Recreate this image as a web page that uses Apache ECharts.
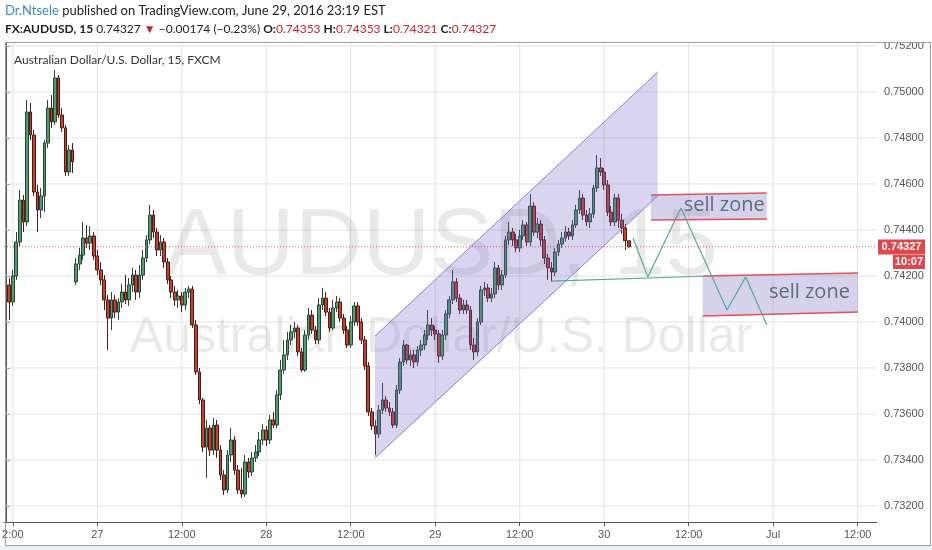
<!DOCTYPE html>
<html><head><meta charset="utf-8">
<script src="https://cdn.jsdelivr.net/npm/echarts@6/dist/echarts.min.js"></script>
<style>html,body{margin:0;padding:0;background:#fff;}#c{width:932px;height:550px;}</style>
</head><body><div id="c"></div>
<script>
// ---- data ----
const startTimeUTC = Date.UTC(2016, 5, 26, 11, 0);   // first time slot
const slotMinutes = 30;
const slotCount = 248;
const firstBarIndex = 1;
const tickIndex = [2, 26, 50, 74, 98, 122, 146, 170, 194, 218, 242];
const tickText = ['2:00', '27', '12:00', '28', '12:00', '29', '12:00', '30', '12:00', 'Jul', '12:00'];
const priceTicks = [0.732, 0.734, 0.736, 0.738, 0.740, 0.742, 0.744, 0.746, 0.748, 0.750, 0.752];
const priceMin = 0.731304;
const priceMax = 0.752130;
const lastPrice = 0.74327;
// [open, close, low, high]
const ohlc = [
[0.74161,0.74087,0.74009,0.74191],[0.74087,0.74200,0.74070,0.74226],[0.74200,0.74348,0.74183,0.74391],
[0.74348,0.74530,0.74330,0.74574],[0.74530,0.74435,0.74391,0.74552],[0.74435,0.74913,0.74417,0.74965],
[0.74913,0.74813,0.74791,0.74952],[0.74813,0.74565,0.74548,0.74835],[0.74565,0.74487,0.74391,0.74596],
[0.74487,0.74548,0.74452,0.74583],[0.74548,0.74778,0.74478,0.74791],[0.74778,0.74930,0.74757,0.74965],
[0.74930,0.74870,0.74844,0.74987],[0.74870,0.75061,0.74857,0.75096],[0.75061,0.74900,0.74887,0.75074],
[0.74900,0.74844,0.74826,0.74930],[0.74844,0.74652,0.74635,0.74857],[0.74652,0.74748,0.74635,0.74770],
[0.74748,0.74696,0.74648,0.74778],
[0.74174,0.74252,0.74161,0.74278],[0.74252,0.74291,0.74226,0.74322],[0.74291,0.74365,0.74270,0.74435],
[0.74365,0.74343,0.74322,0.74422],[0.74343,0.74374,0.74313,0.74417],[0.74374,0.74287,0.74270,0.74391],
[0.74287,0.74226,0.74204,0.74313],[0.74226,0.74183,0.74161,0.74261],[0.74183,0.74096,0.74052,0.74204],
[0.74096,0.74017,0.73878,0.74117],[0.74017,0.74096,0.73965,0.74130],[0.74096,0.74043,0.74017,0.74117],
[0.74043,0.74087,0.74009,0.74104],[0.74087,0.74130,0.74061,0.74165],[0.74130,0.74096,0.74078,0.74204],
[0.74096,0.74161,0.74070,0.74191],[0.74161,0.74204,0.74130,0.74235],[0.74204,0.74130,0.74096,0.74226],
[0.74130,0.74204,0.74104,0.74248],[0.74204,0.74278,0.74183,0.74313],[0.74278,0.74357,0.74261,0.74378],
[0.74357,0.74465,0.74339,0.74509],[0.74465,0.74391,0.74365,0.74487],[0.74391,0.74313,0.74287,0.74409],
[0.74313,0.74348,0.74287,0.74378],[0.74348,0.74261,0.74235,0.74365],[0.74261,0.74183,0.74165,0.74278],
[0.74183,0.74130,0.74104,0.74200],[0.74130,0.74096,0.74070,0.74157],[0.74096,0.74113,0.74061,0.74139],
[0.74113,0.74074,0.74043,0.74130],[0.74074,0.74130,0.74052,0.74148],[0.74130,0.74143,0.74104,0.74157],
[0.74143,0.73987,0.73974,0.74157],[0.73987,0.73783,0.73770,0.74009],[0.73783,0.73661,0.73643,0.73800],
[0.73661,0.73456,0.73435,0.73670],[0.73456,0.73539,0.73322,0.73574],[0.73539,0.73443,0.73417,0.73552],
[0.73443,0.73552,0.73422,0.73583],[0.73552,0.73443,0.73409,0.73574],[0.73443,0.73335,0.73313,0.73465],
[0.73335,0.73270,0.73248,0.73356],[0.73270,0.73422,0.73256,0.73443],[0.73422,0.73487,0.73391,0.73539],
[0.73487,0.73356,0.73335,0.73504],[0.73356,0.73270,0.73252,0.73378],[0.73270,0.73252,0.73235,0.73365],
[0.73252,0.73391,0.73239,0.73422],[0.73391,0.73348,0.73322,0.73409],[0.73348,0.73409,0.73330,0.73435],
[0.73409,0.73435,0.73391,0.73465],[0.73435,0.73487,0.73417,0.73522],[0.73487,0.73530,0.73465,0.73556],
[0.73530,0.73487,0.73461,0.73548],[0.73487,0.73574,0.73470,0.73596],[0.73574,0.73552,0.73539,0.73609],
[0.73552,0.73683,0.73539,0.73704],[0.73683,0.73791,0.73661,0.73835],[0.73791,0.73857,0.73774,0.73922],
[0.73857,0.73922,0.73835,0.73957],[0.73922,0.73957,0.73900,0.73987],[0.73957,0.73974,0.73930,0.74000],
[0.73974,0.73870,0.73852,0.73987],[0.73870,0.73791,0.73783,0.73887],[0.73791,0.73943,0.73783,0.73965],
[0.73943,0.74030,0.73922,0.74061],[0.74030,0.73965,0.73948,0.74052],[0.73965,0.73922,0.73904,0.73983],
[0.73922,0.74074,0.73904,0.74104],[0.74074,0.74104,0.74052,0.74148],[0.74104,0.74043,0.74026,0.74130],
[0.74043,0.73974,0.73957,0.74061],[0.73974,0.74061,0.73965,0.74096],[0.74061,0.74087,0.74043,0.74113],
[0.74087,0.74017,0.74000,0.74104],[0.74017,0.73965,0.73948,0.74035],[0.73965,0.73900,0.73887,0.73983],
[0.73900,0.74000,0.73887,0.74026],[0.74000,0.74070,0.73983,0.74087],[0.74070,0.74000,0.73983,0.74087],
[0.74000,0.73922,0.73904,0.74017],[0.73922,0.73809,0.73791,0.73939],[0.73809,0.73609,0.73591,0.73826],
[0.73609,0.73548,0.73530,0.73626],[0.73548,0.73513,0.73422,0.73574],[0.73513,0.73617,0.73496,0.73639],
[0.73617,0.73661,0.73600,0.73735],[0.73661,0.73626,0.73609,0.73678],[0.73626,0.73609,0.73591,0.73652],
[0.73609,0.73552,0.73539,0.73626],[0.73552,0.73704,0.73539,0.73726],[0.73704,0.73826,0.73687,0.73843],
[0.73826,0.73900,0.73809,0.73922],[0.73900,0.73835,0.73817,0.73904],[0.73835,0.73857,0.73809,0.73878],
[0.73857,0.73826,0.73800,0.73878],[0.73826,0.73878,0.73809,0.73896],[0.73878,0.73900,0.73852,0.73922],
[0.73900,0.73943,0.73878,0.73965],[0.73943,0.73987,0.73922,0.74052],[0.73987,0.73965,0.73939,0.74017],
[0.73965,0.73948,0.73922,0.73983],[0.73948,0.73852,0.73822,0.73965],[0.73852,0.73943,0.73835,0.73965],
[0.73943,0.74035,0.73922,0.74052],[0.74035,0.74096,0.74017,0.74113],[0.74096,0.74174,0.74078,0.74226],
[0.74174,0.74104,0.74087,0.74191],[0.74104,0.74052,0.74035,0.74122],[0.74052,0.74074,0.74035,0.74096],
[0.74074,0.74052,0.74035,0.74096],[0.74052,0.73900,0.73878,0.74070],[0.73900,0.73870,0.73835,0.73930],
[0.73870,0.74000,0.73852,0.74017],[0.74000,0.74139,0.73987,0.74157],[0.74139,0.74148,0.74113,0.74174],
[0.74148,0.74104,0.74087,0.74165],[0.74104,0.74122,0.74087,0.74148],[0.74122,0.74235,0.74104,0.74261],
[0.74235,0.74161,0.74139,0.74248],[0.74161,0.74204,0.74139,0.74226],[0.74204,0.74357,0.74191,0.74374],
[0.74357,0.74391,0.74335,0.74435],[0.74391,0.74357,0.74330,0.74409],[0.74357,0.74322,0.74304,0.74383],
[0.74322,0.74374,0.74304,0.74400],[0.74374,0.74422,0.74357,0.74443],[0.74422,0.74348,0.74330,0.74435],
[0.74348,0.74504,0.74330,0.74557],[0.74504,0.74391,0.74374,0.74522],[0.74391,0.74426,0.74365,0.74452],
[0.74426,0.74357,0.74330,0.74443],[0.74357,0.74278,0.74252,0.74374],[0.74278,0.74235,0.74183,0.74296],
[0.74235,0.74217,0.74174,0.74261],[0.74217,0.74304,0.74200,0.74322],[0.74304,0.74339,0.74287,0.74357],
[0.74339,0.74365,0.74322,0.74391],[0.74365,0.74391,0.74348,0.74417],[0.74391,0.74374,0.74357,0.74409],
[0.74374,0.74422,0.74357,0.74443],[0.74422,0.74487,0.74409,0.74509],[0.74487,0.74539,0.74470,0.74574],
[0.74539,0.74465,0.74443,0.74557],[0.74465,0.74435,0.74417,0.74487],[0.74435,0.74470,0.74409,0.74496],
[0.74470,0.74583,0.74452,0.74596],[0.74583,0.74670,0.74565,0.74726],[0.74670,0.74652,0.74635,0.74713],
[0.74652,0.74596,0.74574,0.74670],[0.74596,0.74478,0.74461,0.74617],[0.74478,0.74435,0.74417,0.74504],
[0.74435,0.74539,0.74417,0.74557],[0.74539,0.74443,0.74409,0.74557],[0.74443,0.74409,0.74383,0.74470],
[0.74409,0.74353,0.74313,0.74426],[0.74353,0.74327,0.74321,0.74353]
];
// drawings: [slot index, price]
const channelLower = [[104.9, 0.73409], [185.2, 0.74548]];
const channelUpper = [[104.9, 0.73939], [185.2, 0.75087]];
const supportLine = [[154.9, 0.74178], [200.0, 0.74200]];
const projectionPath = [[178.2, 0.74365], [182.4, 0.74196], [191.8, 0.74496], [204.9, 0.74052], [210.2, 0.74196], [216.2, 0.73987]];
const zone1Top = [[183.3, 0.74552], [216.2, 0.74561]];
const zone1Bottom = [[183.3, 0.74443], [216.2, 0.74448]];
const zone2Top = [[198.0, 0.74200], [242.1, 0.74213]];
const zone2Bottom = [[198.0, 0.74026], [242.1, 0.74043]];
const zone1LabelAt = [192.6, 0.74509];
const zone2LabelAt = [216.8, 0.74128];
const zoneText = 'sell zone';

// ---- build ----
const categories = [];
for (let i = 0; i < slotCount; i++) {
  const d = new Date(startTimeUTC + i * slotMinutes * 60000);
  categories.push(d.toISOString().slice(0, 16).replace('T', ' '));
}
const candleData = categories.map((_, i) => {
  const k = i - firstBarIndex;
  return (k >= 0 && k < ohlc.length) ? ohlc[k] : '-';
});
const tickShown = (i) => tickIndex.indexOf(i) >= 0;
const xLo = -0.5, xHi = slotCount - 0.5;
const gridBox = {left: 4, top: 43, width: 873, height: 479};

const chart = echarts.init(document.getElementById('c'), null, {renderer: 'canvas'});

function polygonSeries(points, style, z) {
  return {
    type: 'custom', xAxisIndex: 1, yAxisIndex: 0, z: z, silent: true, data: [0],
    renderItem: (params, api) => ({
      type: 'polygon',
      shape: {points: points.map(p => api.coord(p))},
      style: style
    })
  };
}
function lineSeries(points, color, width, z, dash) {
  return {
    type: 'line', xAxisIndex: 1, yAxisIndex: 0, z: z, silent: true,
    data: points, symbol: 'none', animation: false,
    lineStyle: {color: color, width: width, type: dash || 'solid'}
  };
}
function textSeries(at, text, z) {
  return {
    type: 'custom', xAxisIndex: 1, yAxisIndex: 0, z: z, silent: true, data: [0],
    renderItem: (params, api) => {
      const p = api.coord(at);
      return {type: 'text', x: p[0], y: p[1],
        style: {text: text, fill: '#5f6b7e', font: '20px "Open Sans"', align: 'left', verticalAlign: 'middle'}};
    }
  };
}

const gridSeries = priceTicks.map(v => lineSeries([[xLo, v], [xHi, v]], '#e3e3e3', 1, 0))
  .concat(tickIndex.map(i => lineSeries([[i, priceMin], [i, priceMax]], '#e3e3e3', 1, 0)));

// pixel row of the last price on the price scale (for the right-hand tags)
const tagY = Math.round(gridBox.top + (priceMax - lastPrice) / (priceMax - priceMin) * gridBox.height);

const option = {
  animation: false,
  grid: Object.assign({outerBoundsMode: 'none', containLabel: false}, gridBox),
  xAxis: [{
    type: 'category', data: categories, boundaryGap: true,
    axisLine: {show: true, lineStyle: {color: '#555'}},
    axisTick: {show: true, alignWithLabel: true, interval: tickShown, length: 4, lineStyle: {color: '#555'}},
    axisLabel: {interval: tickShown, formatter: (v, i) => tickText[tickIndex.indexOf(i)] || '',
      color: '#555', fontSize: 11, margin: 7, fontFamily: 'Liberation Sans'},
    splitLine: {show: false}
  }, {
    type: 'value', min: xLo, max: xHi, show: false
  }],
  yAxis: [{
    type: 'value', position: 'right', min: priceMin, max: priceMax, scale: true,
    axisLine: {show: true, lineStyle: {color: '#555'}},
    axisTick: {show: true, customValues: priceTicks, length: 4, lineStyle: {color: '#555'}},
    axisLabel: {customValues: priceTicks, formatter: v => v.toFixed(5), color: '#555', fontSize: 11, margin: 7, fontFamily: 'Liberation Sans'},
    splitLine: {show: false}
  }],
  series: gridSeries.concat([
    {
      type: 'candlestick', xAxisIndex: 0, yAxisIndex: 0, data: candleData, z: 3,
      barWidth: 3.2,
      itemStyle: {color: '#509b6f', color0: '#c4412f', borderColor: '#2a4533', borderColor0: '#4a1c15', borderWidth: 1}
    },
    lineSeries([[xLo, lastPrice], [xHi, lastPrice]], '#e0525a', 1, 4, [1, 2]),
    polygonSeries([channelLower[0], channelLower[1], channelUpper[1], channelUpper[0]],
      {fill: 'rgba(120,100,200,0.28)'}, 5),
    lineSeries(channelLower, '#8e80cc', 1, 6),
    lineSeries(channelUpper, '#8e80cc', 1, 6),
    polygonSeries([zone1Bottom[0], zone1Bottom[1], zone1Top[1], zone1Top[0]],
      {fill: 'rgba(120,105,190,0.30)'}, 5),
    polygonSeries([zone2Bottom[0], zone2Bottom[1], zone2Top[1], zone2Top[0]],
      {fill: 'rgba(120,105,190,0.30)'}, 5),
    lineSeries(zone1Top, '#e3505c', 1.5, 7),
    lineSeries(zone1Bottom, '#e3505c', 1.5, 7),
    lineSeries(zone2Top, '#e3505c', 1.5, 7),
    lineSeries(zone2Bottom, '#e3505c', 1.5, 7),
    lineSeries(supportLine, '#5aa897', 1.2, 8),
    lineSeries(projectionPath, '#5aa897', 1.2, 8),
    textSeries(zone1LabelAt, zoneText, 9),
    textSeries(zone2LabelAt, zoneText, 9)
  ]),
  graphic: [
    {type: 'text', z: 1, style: {text: 'AUDUSD, 15', x: 441, y: 248, font: '94px "Liberation Sans"',
      fill: 'rgba(0,0,0,0.085)', textAlign: 'center', textVerticalAlign: 'middle', align: 'center', verticalAlign: 'middle'}},
    {type: 'text', z: 1, style: {text: 'Australian Dollar/U.S. Dollar', x: 441, y: 338, font: '50px "Liberation Sans"',
      fill: 'rgba(0,0,0,0.085)', textAlign: 'center', textVerticalAlign: 'middle', align: 'center', verticalAlign: 'middle'}},
    {type: 'rect', z: 50, shape: {x: 878, y: 0, width: 54, height: 42}, style: {fill: '#fff'}},
    {type: 'rect', z: 51, shape: {x: 0, y: 546, width: 932, height: 4}, style: {fill: '#eef0f2'}},
    {type: 'rect', z: 52, shape: {x: 5.5, y: 42.5, width: 925, height: 503}, style: {fill: 'none', stroke: '#9c9c9c', lineWidth: 1}},
    {type: 'text', z: 60, left: 14, top: 54, style: {text: 'Australian Dollar/U.S. Dollar, 15, FXCM', fill: '#333', font: '12px Lato'}},
    {type: 'text', z: 60, left: 5, top: 4, style: {
      text: '{a|Dr.Ntsele}{b| published on TradingView.com, June 29, 2016 23:19 EST}',
      rich: {a: {fill: '#3d86c6', font: '13px Lato'}, b: {fill: '#222', font: '13px Lato'}}}},
    {type: 'text', z: 60, left: 5, top: 23, style: {
      text: '{k|FX:AUDUSD, 15}{n| 0.74327 }{r|▼}{n| −0.00174 (−0.23%) }{k|O:}{r|0.74353}{n| }{k|H:}{r|0.74353}{n| }{k|L:}{r|0.74321}{n| }{k|C:}{r|0.74327}',
      rich: {k: {fill: '#222', font: 'bold 12px Lato'}, n: {fill: '#222', font: '12px Lato'}, r: {fill: '#c8242c', font: '12px Lato'}}}},
    {type: 'rect', z: 60, shape: {x: 878, y: tagY - 7.5, width: 47, height: 15}, style: {fill: '#e0474c'}},
    {type: 'text', z: 61, style: {text: lastPrice.toFixed(5), x: 901.5, y: tagY, fill: '#fff', font: 'bold 11px "Liberation Sans"',
      align: 'center', verticalAlign: 'middle', textAlign: 'center', textVerticalAlign: 'middle'}},
    {type: 'rect', z: 60, shape: {x: 893, y: tagY + 8, width: 32, height: 14}, style: {fill: '#e0474c'}},
    {type: 'text', z: 61, style: {text: '10:07', x: 909, y: tagY + 15, fill: '#fff', font: 'bold 11px "Liberation Sans"',
      align: 'center', verticalAlign: 'middle', textAlign: 'center', textVerticalAlign: 'middle'}}
  ]
};
chart.setOption(option);
</script></body></html>
